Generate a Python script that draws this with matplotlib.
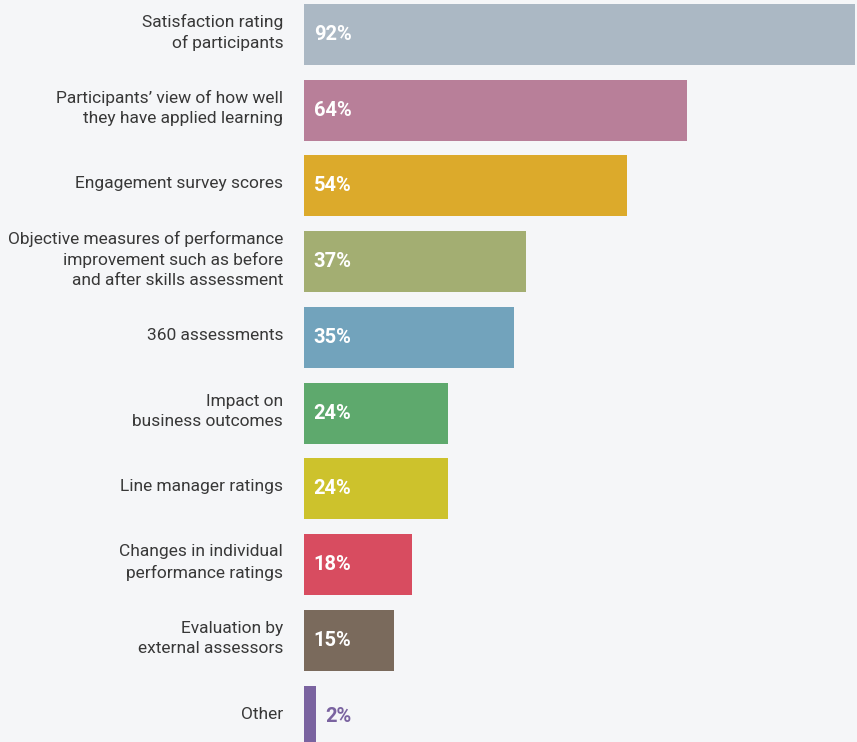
import matplotlib
matplotlib.use("Agg")
import matplotlib.pyplot as plt

categories = [
    "Satisfaction rating\nof participants",
    "Participants\u2019 view of how well\nthey have applied learning",
    "Engagement survey scores",
    "Objective measures of performance\nimprovement such as before\nand after skills assessment",
    "360 assessments",
    "Impact on\nbusiness outcomes",
    "Line manager ratings",
    "Changes in individual\nperformance ratings",
    "Evaluation by\nexternal assessors",
    "Other",
]
values = [92, 64, 54, 37, 35, 24, 24, 18, 15, 2]
colors = ["#abb8c4", "#b87f99", "#dcaa2b", "#a3ae72", "#72a3bc",
          "#5ea96d", "#cdc22c", "#d84c60", "#7a6a5c", "#7a63a0"]

bg = "#f5f6f8"
W, H = 857, 742
fig = plt.figure(figsize=(W / 100, H / 100), dpi=100, facecolor=bg)
ax = fig.add_axes([304 / W, 0, 1 - 304 / W, 1], facecolor=bg)

ypos = list(range(len(values)))
ax.barh(ypos, values, height=0.805, color=colors)

ax.set_xlim(0, (W - 304) / 5.99)
ax.set_ylim(9.34, -0.455)
for s in ax.spines.values():
    s.set_visible(False)
ax.set_xticks([])
ax.set_yticks([])

font = "Roboto"
for y, (cat, v, c) in enumerate(zip(categories, values, colors)):
    ax.annotate(cat, xy=(0, y), xytext=(-15, 1.5), textcoords="offset points",
                ha="right", va="center", fontsize=12.5, color="#383838",
                family=font, fontweight="normal", linespacing=1.42)
    if v >= 5:
        ax.annotate(f"{v}%", xy=(0, y), xytext=(7, 0), textcoords="offset points",
                    ha="left", va="center", fontsize=14.5, color="white",
                    family=font, fontweight="bold")
    else:
        ax.annotate(f"{v}%", xy=(v, y), xytext=(7, 0), textcoords="offset points",
                    ha="left", va="center", fontsize=14.5, color=c,
                    family=font, fontweight="bold")

fig.savefig("out.png", dpi=100, facecolor=bg)
